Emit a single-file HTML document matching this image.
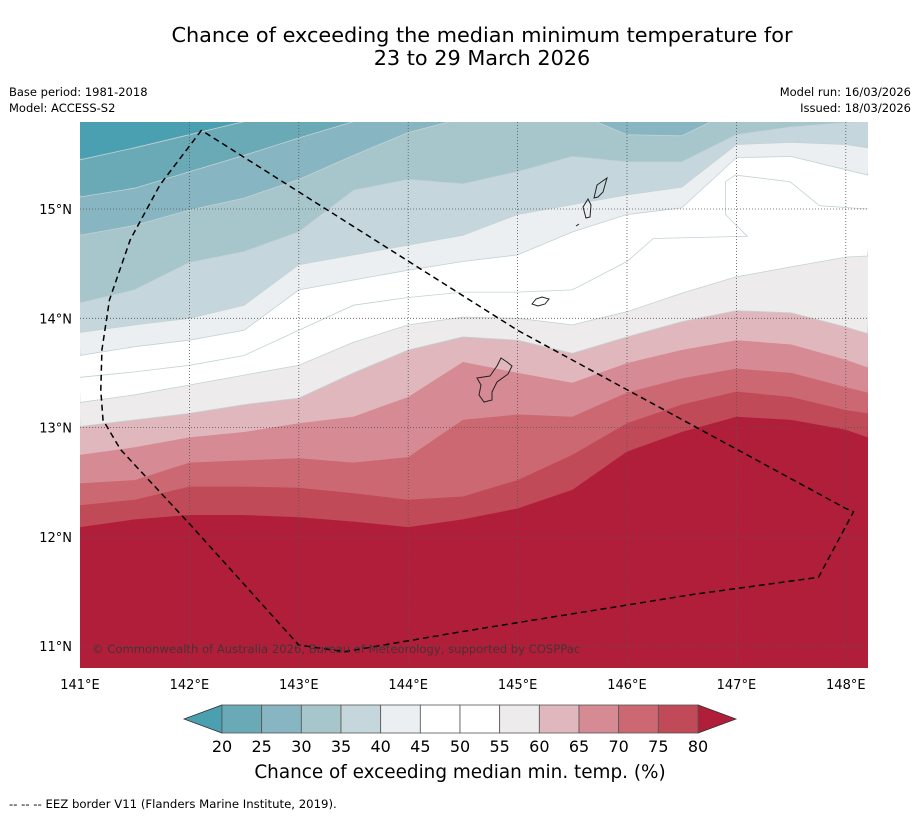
<!DOCTYPE html>
<html><head><meta charset="utf-8"><style>
body{margin:0;background:#fff;width:919px;height:816px;overflow:hidden;font-family:"Liberation Sans",sans-serif}
svg text{font-family:"DejaVu Sans","Liberation Sans",sans-serif}
</style></head><body>
<svg id="chart" width="919" height="816" xmlns="http://www.w3.org/2000/svg">
<text x="482" y="42" font-size="20.8" text-anchor="middle">Chance of exceeding the median minimum temperature for</text>
<text x="482" y="65" font-size="20.8" text-anchor="middle">23 to 29 March 2026</text>
<text x="9" y="96" font-size="11.5">Base period: 1981-2018</text>
<text x="9" y="112" font-size="11.5">Model: ACCESS-S2</text>
<text x="911" y="96" font-size="11.5" text-anchor="end">Model run: 16/03/2026</text>
<text x="911" y="112" font-size="11.5" text-anchor="end">Issued: 18/03/2026</text>
<defs><clipPath id="mapclip"><rect x="80" y="122" width="788" height="546"/></clipPath></defs>
<g id="map" clip-path="url(#mapclip)"></g>
<g id="axes"></g>
<text x="92" y="653" font-size="11.6" fill="#333" fill-opacity="0.8">© Commonwealth of Australia 2026, Bureau of Meteorology, supported by COSPPac</text>
<g id="cbar"></g>
<text x="460" y="778" font-size="18.4" text-anchor="middle">Chance of exceeding median min. temp. (%)</text>
<text x="9" y="808" font-size="11.7">--  --  -- EEZ border V11 (Flanders Marine Institute, 2019).</text>
</svg>
<script>
const lons=[141,141.5,142,142.5,143,143.5,144,144.5,145,145.5,146,146.5,147,147.5,148,148.2];
const levels=[80,75,70,65,60,55,45,40,35,30,25,20];
const lv80=[12.09,12.16,12.20,12.20,12.18,12.14,12.09,12.16,12.26,12.43,12.78,12.96,13.10,13.07,12.98,12.91];
const lv75=[12.29,12.34,12.46,12.46,12.45,12.40,12.34,12.37,12.52,12.75,13.04,13.21,13.33,13.28,13.16,13.13];
const lv70=[12.49,12.52,12.68,12.70,12.72,12.68,12.73,13.07,13.12,13.10,13.32,13.45,13.54,13.50,13.37,13.32];
const lv65=[12.75,12.82,12.91,12.96,13.04,13.10,13.28,13.60,13.50,13.41,13.59,13.71,13.80,13.76,13.62,13.55];
const lv60=[13.01,13.07,13.13,13.21,13.27,13.50,13.71,13.83,13.80,13.68,13.83,13.97,14.07,14.05,13.92,13.86];
const lv55=[13.23,13.30,13.39,13.48,13.57,13.78,13.94,14.01,14.00,13.94,14.06,14.23,14.38,14.47,14.56,14.57];
const lv45=[13.66,13.74,13.80,13.89,14.26,14.35,14.44,14.52,14.58,14.79,14.95,15.01,15.47,15.48,15.36,15.31];
const lv40=[13.87,13.94,14.00,14.12,14.49,14.58,14.67,14.76,14.95,15.04,15.13,15.20,15.59,15.61,15.59,15.56];
const lv35=[14.14,14.26,14.51,14.61,14.79,15.17,15.27,15.23,15.34,15.48,15.43,15.43,15.68,15.75,15.79,15.80];
const lv30=[14.76,14.85,14.99,15.10,15.27,15.49,15.70,15.83,15.91,15.89,15.68,15.67,15.91,15.91,15.91,15.91];
const lv25=[15.11,15.19,15.34,15.49,15.65,15.80,15.91,15.91,15.91,15.91,15.91,15.91,15.91,15.91,15.91,15.91];
const lv20=[15.45,15.56,15.68,15.80,15.91,15.91,15.91,15.91,15.91,15.91,15.91,15.91,15.91,15.91,15.91,15.91];
const line50Lon=[141,141.5,142,142.5,143,143.5,144,144.5,145,145.5,146,146.24,147.1,146.9,146.9,146.99,147.49,147.76,148.2];
const line50Lat=[13.46,13.51,13.57,13.66,13.89,14.12,14.19,14.24,14.24,14.26,14.52,14.73,14.75,14.95,15.25,15.31,15.25,15.03,15.0];
const eezLon=[142.11,141.73,141.46,141.27,141.20,141.19,141.21,141.37,142.01,143.00,143.42,144.47,146.58,147.75,148.07,148.00,145.00,142.11];
const eezLat=[15.72,15.22,14.72,14.17,13.71,13.34,13.07,12.80,12.11,11.01,10.95,11.13,11.47,11.63,12.23,12.26,13.89,15.72];
const lonTicks=[141,142,143,144,145,146,147,148];
const latTicks=[11,12,13,14,15];
const cbarLevels=[20,25,30,35,40,45,50,55,60,65,70,75,80];
const cbarColors=['#6aaab7','#87b5c1','#a7c6cb','#c5d7dc','#ebeff2','#ffffff','#ffffff','#eeebec','#e0b7bc','#d58a94','#cb6872','#c04a57'];
const bandColors=['#c04a57','#cb6872','#d58a94','#e0b7bc','#eeebec','#ffffff','#ebeff2','#c5d7dc','#a7c6cb','#87b5c1','#6aaab7','#4aa0b0'];
const bounds=[lv80,lv75,lv70,lv65,lv60,lv55,lv45,lv40,lv35,lv30,lv25,lv20];
const NS='http://www.w3.org/2000/svg';
const xS=lon=>80+(lon-141)*109.4;
const yS=lat=>209-(lat-15)*109.3;
function mk(tag,attrs,parent){const e=document.createElementNS(NS,tag);for(const k in attrs)e.setAttribute(k,attrs[k]);parent.appendChild(e);return e;}
const map=document.getElementById('map');
const bg=mk('rect',{x:80,y:122,width:788,height:546,fill:'#b11e3a'},map);


bounds.forEach((b,i)=>{
  let d='M'+xS(lons[0])+','+yS(b[0]);
  for(let j=1;j<lons.length;j++)d+=' L'+xS(lons[j]).toFixed(1)+','+yS(b[j]).toFixed(1);
  d+=' L880,100 L70,100 Z';
  const p=mk('path',{d:d,fill:bandColors[i],stroke:levels[i]<=60?'#c3d2d6':'none','stroke-width':levels[i]<=60?0.8:0},map);
  
  
});
let d50='';line50Lon.forEach((lo,i)=>{d50+=(i?' L':'M')+xS(lo).toFixed(1)+','+yS(line50Lat[i]).toFixed(1);});
const l50=mk('path',{d:d50,fill:'none',stroke:'#c3d2d6','stroke-width':0.8},map);


lonTicks.slice(1).forEach(lo=>{const g=mk('line',{x1:xS(lo),x2:xS(lo),y1:122,y2:668,stroke:'#555','stroke-width':0.8,'stroke-dasharray':'1,2'},map);

});
latTicks.forEach(la=>{const g=mk('line',{x1:80,x2:868,y1:yS(la),y2:yS(la),stroke:'#555','stroke-width':0.8,'stroke-dasharray':'1,2'},map);

});
const isl=[
 'M477,378 L490,376 L497,366 L501,358 L507,362 L512,366 L508,374 L497,382 L492,392 L492,400 L484,402 L479,395 L481,385 Z',
 'M532,304 L536,299 L542,297 L549,299 L545,304 L538,306 Z',
 'M594,198 L597,185 L607,178 L603,192 L598,197 Z',
 'M583,207 L588,199 L591,205 L590,217 L586,218 Z',
 'M576,226 L579,224'];
isl.forEach(s=>{const p=mk('path',{d:s,fill:'none',stroke:'#222','stroke-width':1},map);

});
let de='';eezLon.forEach((lo,i)=>{de+=(i?' L':'M')+xS(lo).toFixed(1)+','+yS(eezLat[i]).toFixed(1);});
const eez=mk('path',{d:de,fill:'none',stroke:'#000','stroke-width':1.5,'stroke-dasharray':'6,4'},map);


const axes=document.getElementById('axes');
lonTicks.forEach(lo=>{const t=mk('text',{x:xS(lo),y:689,'font-size':13,'text-anchor':'middle'},axes);t.textContent=lo+'°E';

});
latTicks.forEach(la=>{const t=mk('text',{x:72,y:yS(la)+5,'font-size':13,'text-anchor':'end'},axes);t.textContent=la+'°N';

});
const cb=document.getElementById('cbar');
const cx0=222,cx1=698,cy0=705,cy1=733,w=(cx1-cx0)/cbarColors.length;
const lt=mk('polygon',{points:`184,719 ${cx0},${cy0} ${cx0},${cy1}`,fill:'#4aa0b0',stroke:'#333','stroke-width':0.8},cb);


const rt=mk('polygon',{points:`736,719 ${cx1},${cy0} ${cx1},${cy1}`,fill:'#b11e3a',stroke:'#333','stroke-width':0.8},cb);


cbarColors.forEach((c,i)=>{const r=mk('rect',{x:cx0+i*w,y:cy0,width:w,height:cy1-cy0,fill:c,stroke:'#555','stroke-width':0.8},cb);

});
cbarLevels.forEach((v,i)=>{const t=mk('text',{x:cx0+i*w,y:752,'font-size':16,'text-anchor':'middle'},cb);t.textContent=v;

});
</script>
</body></html>
